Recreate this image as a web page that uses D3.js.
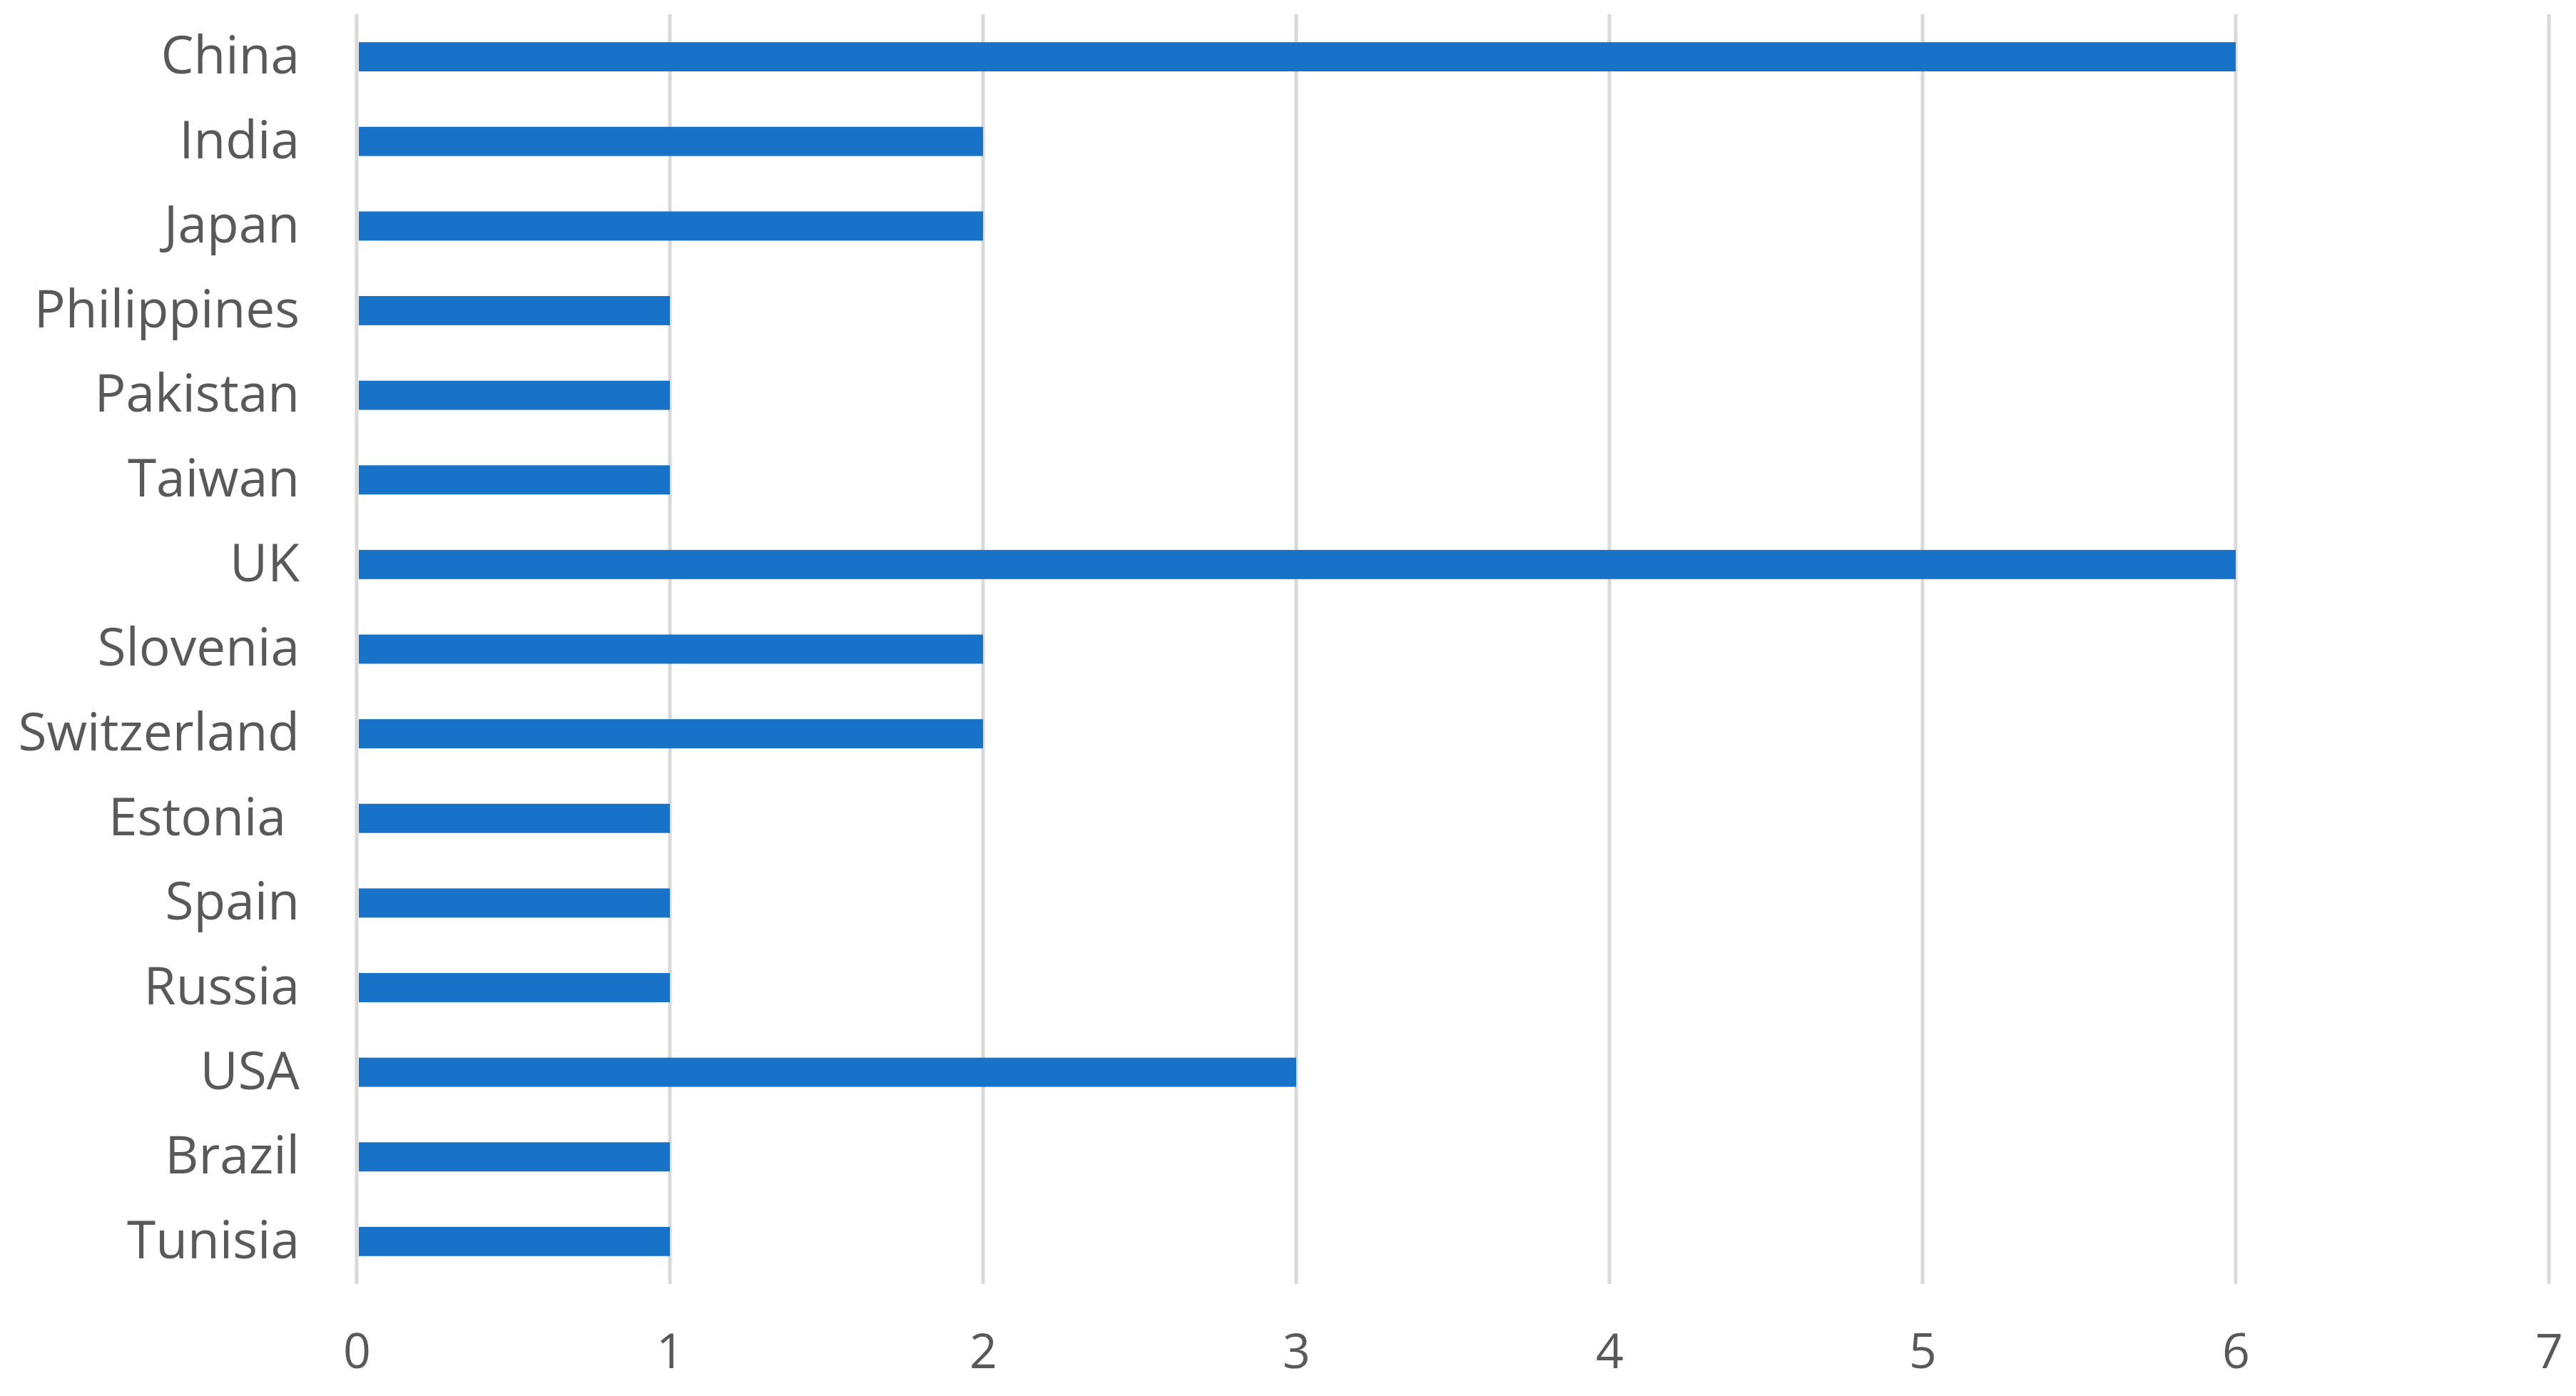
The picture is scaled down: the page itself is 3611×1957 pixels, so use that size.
<!DOCTYPE html>
<html>
<head>
<meta charset="utf-8">
<script src="https://cdn.jsdelivr.net/npm/d3@7"></script>
<style>
  body { margin: 0; background: #fff; }
  text { font-family: "Open Sans", "Noto Sans", sans-serif; fill: #595959; white-space: pre; }
</style>
</head>
<body>
<svg id="chart" width="3611" height="1957"></svg>
<script>
// countries top to bottom, as in the picture
const countries = ['China', 'India', 'Japan', 'Philippines', 'Pakistan', 'Taiwan', 'UK', 'Slovenia',
  'Switzerland', 'Estonia ', 'Spain', 'Russia', 'USA', 'Brazil', 'Tunisia']
const counts = [6, 2, 2, 1, 1, 1, 6, 2, 2, 1, 1, 1, 3, 1, 1]
const xTicks = [0, 1, 2, 3, 4, 5, 6, 7]

const svg = d3.select('#chart')
const margin = {top: 20, right: 38, bottom: 157, left: 500}
const width = 3611, height = 1957

let x = d3.scaleLinear().domain([0, 7]).range([margin.left, width - margin.right])
let y = d3.scaleBand().domain(countries).range([margin.top, height - margin.bottom]).paddingInner(0.655).paddingOuter(0.33)

svg.append('rect').attr('width', width).attr('height', height).attr('fill', '#fff')

// vertical gridlines
svg.append('g').selectAll('line').data(xTicks).enter().append('line')
  .attr('x1', d => x(d)).attr('x2', d => x(d))
  .attr('y1', margin.top).attr('y2', height - margin.bottom)
  .attr('stroke', '#d9d9d9').attr('stroke-width', 5)

// bars
svg.append('g').selectAll('rect').data(countries).enter().append('rect')
  .attr('x', x(0) + 3)
  .attr('y', d => y(d))
  .attr('height', y.bandwidth())
  .attr('width', (d, i) => x(counts[i]) - x(0) - 3)
  .attr('fill', '#1873c8')

// x axis labels
let xAxis = svg.append('g').attr('transform', `translate(0,${height - margin.bottom})`)
  .call(d3.axisBottom(x).tickValues(xTicks).tickSize(0).tickPadding(70).tickFormat(d3.format('d')))
xAxis.select('.domain').remove()
xAxis.selectAll('text').attr('font-size', 68).style('fill', '#595959').attr('font-family', null)

// y axis labels
let yAxis = svg.append('g').attr('transform', `translate(${margin.left},0)`)
  .call(d3.axisLeft(y).tickSize(0).tickPadding(80))
yAxis.select('.domain').remove()
yAxis.selectAll('text').attr('font-size', 73).style('fill', '#595959').attr('font-family', null)
</script>
</body>
</html>
